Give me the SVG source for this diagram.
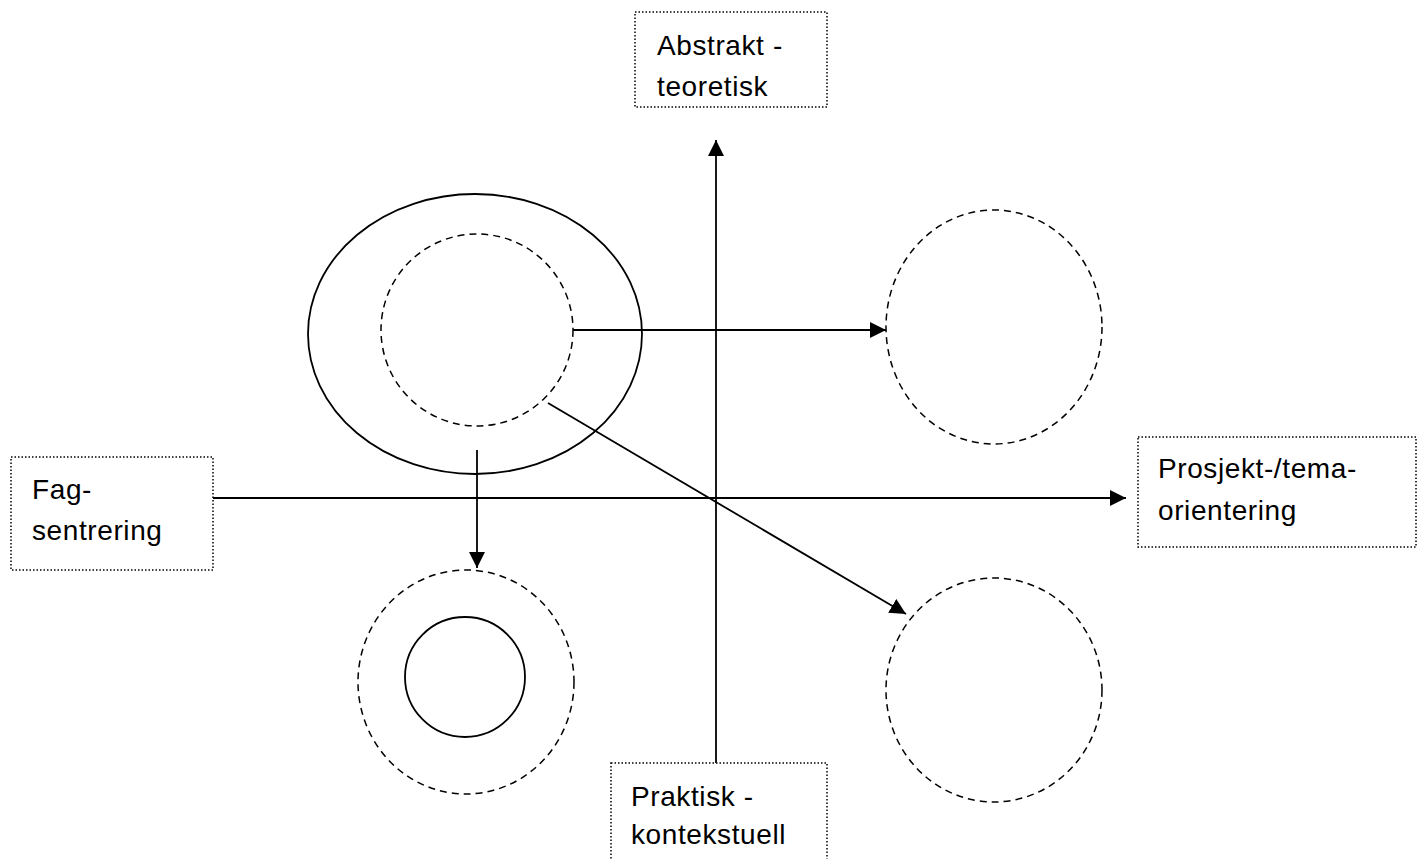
<svg xmlns="http://www.w3.org/2000/svg" width="1423" height="859" viewBox="0 0 1423 859">
<style>
.box{fill:#fff;stroke:#000;stroke-width:1.5;stroke-dasharray:1.5 2}
.lbl{font-family:"Liberation Sans","DejaVu Sans",sans-serif;font-size:28px;letter-spacing:0.6px;fill:#000}
.solid{fill:none;stroke:#000;stroke-width:1.8}
.dash{fill:none;stroke:#000;stroke-width:1.5;stroke-dasharray:7 5}
.con{fill:none;stroke:#000;stroke-width:1.8}
</style>
<defs>
<marker id="ahL" viewBox="0 0 10 10" refX="10" refY="5" markerWidth="16" markerHeight="16" markerUnits="userSpaceOnUse" orient="auto">
<path d="M0,0 L10,5 L0,10 z" fill="#000"/>
</marker>
</defs>
<rect width="1423" height="859" fill="#fff"/>
<g id="shapes">
<ellipse id="outer-ellipse" class="solid" cx="475" cy="334" rx="167" ry="140"/>
<ellipse id="inner-dashed" class="dash" cx="477" cy="330" rx="96" ry="96"/>
<ellipse id="right-top" class="dash" cx="994" cy="327" rx="108" ry="117"/>
<ellipse id="left-bottom" class="dash" cx="466" cy="682" rx="108" ry="112"/>
<circle id="left-bottom-inner" class="solid" cx="465" cy="677" r="60"/>
<ellipse id="right-bottom" class="dash" cx="994" cy="690" rx="108" ry="112"/>
</g>
<g id="connectors">
<line class="con" x1="716" y1="815" x2="716" y2="140" marker-end="url(#ahL)"/>
<line class="con" x1="213" y1="498" x2="1126" y2="498" marker-end="url(#ahL)"/>
<line class="con" x1="573" y1="330" x2="886" y2="330" marker-end="url(#ahL)"/>
<line class="con" x1="477" y1="450" x2="477" y2="568" marker-end="url(#ahL)"/>
<line class="con" x1="548" y1="403" x2="906" y2="614" marker-end="url(#ahL)"/>
</g>
<g id="node-abstrakt">
<rect class="box" x="635" y="12" width="192" height="95"/>
<text class="lbl" x="657" y="55">Abstrakt -</text>
<text class="lbl" x="657" y="96">teoretisk</text>
</g>
<g id="node-fag">
<rect class="box" x="11" y="457" width="202" height="113"/>
<text class="lbl" x="32" y="499">Fag-</text>
<text class="lbl" x="32" y="540">sentrering</text>
</g>
<g id="node-prosjekt">
<rect class="box" x="1138" y="437" width="278" height="110"/>
<text class="lbl" x="1158" y="478">Prosjekt-/tema-</text>
<text class="lbl" x="1158" y="520">orientering</text>
</g>
<g id="node-praktisk">
<rect class="box" x="611" y="763" width="216" height="110"/>
<text class="lbl" x="631" y="806">Praktisk -</text>
<text class="lbl" x="631" y="844">kontekstuell</text>
</g>
</svg>
